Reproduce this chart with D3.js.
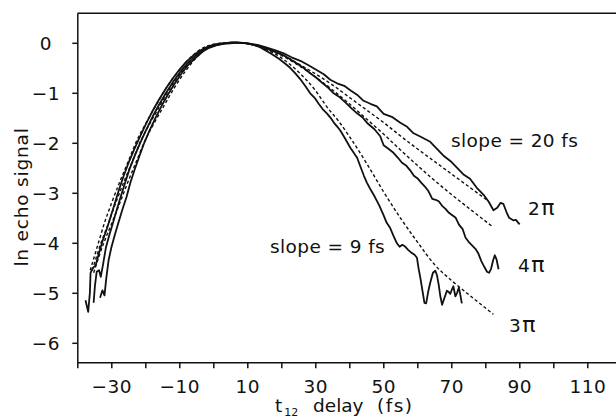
<!DOCTYPE html>
<html><head><meta charset="utf-8">
<script src="https://cdn.jsdelivr.net/npm/d3@7"></script>
<style>
html,body{margin:0;padding:0;background:#fff;}
svg{display:block;}
text{font-family:"DejaVu Sans",sans-serif;fill:#111;}
</style></head>
<body><svg id="c" width="616" height="419"></svg>
<script>
// ---- data ----
const xTickValues = [-40,-30,-20,-10,0,10,20,30,40,50,60,70,80,90,100,110,120];
const xTickLabels = [-30,-10,10,30,50,70,90,110];
const yTickValues = [0,-1,-2,-3,-4,-5,-6];

const solid2pi = [[-33.3,-5.1],[-32.6,-4.95],[-32.0,-5.05],[-31.5,-4.72],[-30.8,-4.35],[-30.0,-4.1],[-29.0,-3.85],[-28.0,-3.62],[-26.8,-3.35],[-25.5,-3.08],[-24.4,-2.8],[-23.2,-2.55],[-21.8,-2.28],[-20.3,-2.0],[-18.8,-1.76],[-17.0,-1.5],[-15.2,-1.26],[-13.2,-1.02],[-11.2,-0.8],[-9.2,-0.6],[-7.2,-0.43],[-5.2,-0.3],[-3.2,-0.18],[-1.2,-0.1],[0.8,-0.05],[3,-0.02],[5,-0.01],[7,0.01],[9,0],[11,-0.02],[13,-0.04],[15.5,-0.09],[18.3,-0.15],[20.7,-0.21],[23,-0.29],[25.6,-0.36],[28,-0.45],[30.5,-0.55],[32.5,-0.63],[34.4,-0.74],[36.4,-0.81],[38.5,-0.86],[40.5,-0.96],[42.5,-1.05],[44.2,-1.16],[46.2,-1.22],[48.1,-1.27],[50.1,-1.42],[52.5,-1.48],[55,-1.6],[57,-1.68],[58.9,-1.81],[61,-1.88],[63.8,-1.98],[65.5,-2.1],[67.9,-2.27],[70,-2.38],[72,-2.52],[73.7,-2.64],[75.5,-2.72],[77.5,-2.9],[79.5,-3.04],[81,-3.18],[82.4,-3.35],[83.5,-3.3],[84.5,-3.2],[85.3,-3.22],[86.2,-3.38],[87,-3.5],[88.2,-3.55],[89,-3.54],[90.1,-3.63]];

const solid4pi = [[-35.2,-5.2],[-34.8,-4.85],[-34.3,-4.58],[-33.6,-4.55],[-33.1,-4.68],[-32.4,-4.42],[-31.6,-4.1],[-30.6,-3.85],[-29.5,-3.6],[-28.3,-3.32],[-27.1,-3.05],[-25.8,-2.77],[-24.5,-2.5],[-23,-2.24],[-21.3,-1.97],[-19.6,-1.72],[-17.8,-1.47],[-15.8,-1.22],[-13.8,-0.99],[-11.7,-0.77],[-9.6,-0.57],[-7.5,-0.4],[-5.4,-0.27],[-3.3,-0.16],[-1.2,-0.08],[1,-0.04],[3.2,-0.01],[5.5,0.01],[7.8,0],[10,-0.01],[12.5,-0.05],[15,-0.1],[17.8,-0.17],[20.7,-0.25],[22.6,-0.33],[24.5,-0.41],[26.5,-0.5],[28.5,-0.61],[30.3,-0.7],[32,-0.8],[33.8,-0.9],[35.4,-1.01],[37.2,-1.09],[39,-1.2],[40.8,-1.32],[42.3,-1.41],[44,-1.5],[45.5,-1.62],[47.4,-1.73],[49.1,-1.87],[50.1,-2.05],[51.5,-2.12],[53,-2.2],[54.3,-2.3],[55.5,-2.4],[56.8,-2.46],[57.9,-2.55],[59,-2.66],[60.2,-2.72],[61.2,-2.8],[62.3,-2.88],[63.3,-2.97],[64.4,-3.12],[65.4,-3.14],[66.3,-3.17],[67.3,-3.26],[68.3,-3.32],[69.3,-3.4],[70.3,-3.45],[71.3,-3.5],[72.3,-3.64],[73.3,-3.72],[74.2,-3.9],[75.1,-3.98],[76.1,-4.05],[77.1,-4.12],[78,-4.22],[78.8,-4.36],[79.7,-4.48],[80.5,-4.58],[81.1,-4.6],[81.7,-4.52],[82.3,-4.35],[82.8,-4.25],[83.3,-4.33],[83.9,-4.53]];

const solid3pi = [[-37.6,-5.15],[-36.8,-5.38],[-36.3,-5.0],[-36.1,-4.6],[-35.4,-4.5],[-34.6,-4.45],[-33.6,-4.2],[-32.5,-3.95],[-31.3,-3.72],[-30.2,-3.48],[-29,-3.22],[-27.7,-2.93],[-26.3,-2.65],[-24.8,-2.38],[-23.2,-2.12],[-21.6,-1.88],[-19.8,-1.62],[-18,-1.38],[-16,-1.14],[-14,-0.92],[-12,-0.72],[-10,-0.54],[-8,-0.38],[-6,-0.26],[-4,-0.16],[-2,-0.09],[0,-0.04],[2,-0.02],[4,0],[6,0.01],[8,0],[10,-0.01],[12,-0.04],[13.5,-0.08],[15,-0.14],[16.8,-0.21],[18.2,-0.27],[19.5,-0.33],[21,-0.41],[22.6,-0.5],[24,-0.6],[25.5,-0.72],[27,-0.86],[28.5,-1.01],[29.8,-1.1],[31,-1.22],[32.2,-1.33],[33.4,-1.41],[34.5,-1.5],[35.5,-1.6],[36.5,-1.68],[37.4,-1.76],[38.8,-1.92],[40.3,-2.1],[41.3,-2.2],[42.3,-2.3],[43.4,-2.5],[44.3,-2.66],[45.2,-2.8],[46.3,-2.94],[47.5,-3.08],[48.8,-3.25],[50.1,-3.45],[51,-3.6],[52,-3.7],[53,-3.86],[54,-4.01],[54.8,-4.08],[55.6,-4.04],[56.5,-4.08],[57.3,-4.14],[58.3,-4.2],[59.2,-4.24],[59.9,-4.3],[60.4,-4.52],[60.9,-4.7],[61.5,-4.95],[62.1,-5.2],[62.6,-5.21],[63.2,-4.98],[63.8,-4.8],[64.6,-4.6],[65.3,-4.56],[65.8,-4.65],[66.3,-4.84],[66.8,-5.08],[67.3,-5.24],[67.9,-5.12],[68.7,-4.96],[69.2,-4.98],[69.7,-5.02],[70.2,-4.93],[70.6,-4.87],[71.2,-5.07],[71.7,-5.0],[72.2,-4.9],[72.6,-5.02],[73.1,-5.21]];

const fit2pi = [[-36.2,-4.55],[-34,-4.05],[-32,-3.6],[-30,-3.22],[-27.5,-2.78],[-25,-2.37],[-22.8,-2.0],[-20,-1.63],[-17,-1.27],[-13.5,-0.87],[-10,-0.55],[-6.5,-0.28],[-3,-0.1],[0,-0.03],[4,0],[7,0],[10,-0.02],[15,-0.1],[20,-0.23],[25,-0.42],[30,-0.62],[35,-0.84],[40,-1.09],[45,-1.34],[50,-1.59],[55,-1.86],[60,-2.12],[65,-2.37],[70,-2.62],[75,-2.87],[81,-3.17]];

const fit4pi = [[-35.6,-4.55],[-33,-4.0],[-30.8,-3.6],[-28.8,-3.22],[-26.3,-2.78],[-23.8,-2.37],[-21.6,-2.0],[-18.8,-1.63],[-15.8,-1.27],[-12.4,-0.87],[-9,-0.55],[-5.6,-0.28],[-2.2,-0.1],[0.8,-0.03],[5,0],[8,0],[10,-0.01],[15,-0.1],[20,-0.25],[25,-0.45],[30,-0.68],[35,-0.94],[40,-1.22],[45,-1.52],[50,-1.82],[55,-2.14],[60,-2.45],[65,-2.75],[70,-3.03],[75,-3.3],[82,-3.67]];

const fit3pi = [[-35.2,-4.6],[-32.2,-4.0],[-29.8,-3.6],[-27.6,-3.22],[-25.1,-2.78],[-22.6,-2.37],[-20.4,-2.0],[-17.6,-1.63],[-14.6,-1.27],[-11.2,-0.87],[-8,-0.55],[-4.8,-0.28],[-1.5,-0.1],[1.5,-0.03],[5.5,0],[8.5,0],[11,-0.03],[15,-0.12],[20,-0.3],[25,-0.58],[30,-0.95],[33.4,-1.28],[37,-1.58],[40,-1.87],[45,-2.4],[50,-2.97],[55,-3.5],[60,-3.98],[65,-4.43],[70,-4.75],[75,-5.03],[82.4,-5.43]];

// ---- drawing ----
const svg = d3.select("#c");
const x = d3.scaleLinear().domain([-40,120]).range([77.3,621.3]);
const y = d3.scaleLinear().domain([-6.39,0.59]).range([362.3,13.3]);
const fmt = d => (d < 0 ? "\u2212" + Math.abs(d) : String(d));
const FS = 18.5;

// top frame line
svg.append("line").attr("x1",x(-40)).attr("x2",616).attr("y1",y(0.59)).attr("y2",y(0.59))
  .attr("stroke","#111").attr("stroke-width",1.5);

const gx = svg.append("g").attr("transform",`translate(0,${y(-6.39)})`)
  .call(d3.axisBottom(x).tickValues(xTickValues).tickSize(6).tickSizeOuter(0)
    .tickFormat(d => xTickLabels.includes(d) ? fmt(d) : ""));
gx.selectAll("text").attr("y",30.5).attr("dy",0).attr("font-size",FS)
  .attr("font-family","DejaVu Sans").attr("fill","#111").attr("letter-spacing",0.5);

const gy = svg.append("g").attr("transform",`translate(${x(-40)},0)`)
  .call(d3.axisLeft(y).tickValues(yTickValues).tickSize(5).tickSizeOuter(0).tickFormat(fmt));
gy.selectAll("text").attr("x",-31.3).attr("dy","0.36em").attr("text-anchor","middle")
  .attr("font-size",FS).attr("font-family","DejaVu Sans").attr("fill","#111").attr("letter-spacing",0.5);

svg.selectAll(".domain, .tick line").attr("stroke","#111").attr("stroke-width",1.5);

const line = d3.line().x(d => x(d[0])).y(d => y(d[1]));
const smooth = d3.line().x(d => x(d[0])).y(d => y(d[1])).curve(d3.curveMonotoneX);

[fit2pi, fit4pi, fit3pi].forEach(s => {
  svg.append("path").datum(s).attr("d", smooth).attr("fill","none")
    .attr("stroke","#111").attr("stroke-width",1.4).attr("stroke-dasharray","3.2,2.4");
});
[solid2pi, solid4pi, solid3pi].forEach(s => {
  svg.append("path").datum(s).attr("d", line).attr("fill","none")
    .attr("stroke","#111").attr("stroke-width",1.8).attr("stroke-linejoin","round");
});

// annotations
function label(txt, px, py, ls){
  return svg.append("text").attr("x",px).attr("y",py).attr("font-size",FS)
    .attr("letter-spacing",ls||0.4).text(txt);
}
label("slope = 20 fs", 451, 146.5);
label("slope = 9 fs", 270, 253.3);

function piLabel(n, px, py){
  const t = svg.append("text").attr("x",px).attr("y",py).attr("font-size",FS);
  t.append("tspan").text(n);
  t.append("tspan").attr("dx",1.5).attr("font-size",22).text("\u03C0");
}
piLabel("2", 528, 215);
piLabel("4", 518, 271.7);
piLabel("3", 509, 332);

// axis titles
svg.append("text").attr("transform","translate(27.5,197) rotate(-90)")
  .attr("text-anchor","middle").attr("font-size",FS).attr("letter-spacing",0.8)
  .text("ln echo signal");

const xt = svg.append("text").attr("x",275).attr("y",412).attr("font-size",FS);
xt.append("tspan").text("t");
xt.append("tspan").attr("font-size",11).attr("dy",4).attr("dx",2).text("12");
xt.append("tspan").attr("x",313).attr("dy",-4).text("delay");
xt.append("tspan").attr("x",377).attr("letter-spacing",1.5).text("(fs)");
</script></body></html>
